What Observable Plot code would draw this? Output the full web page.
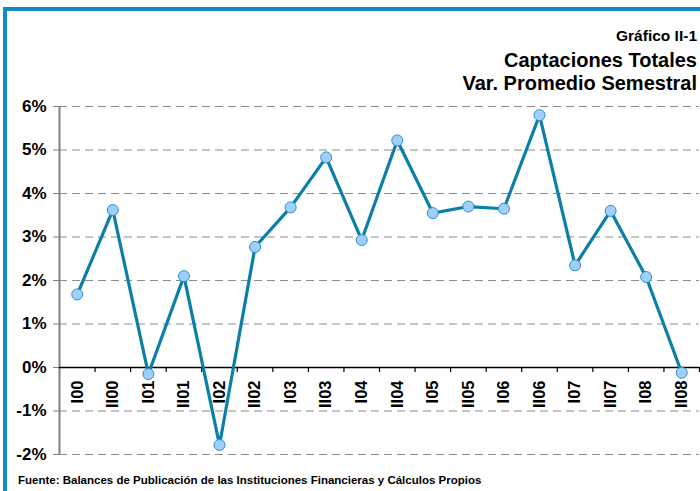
<!DOCTYPE html>
<html>
<head>
<meta charset="utf-8">
<script src="https://cdn.jsdelivr.net/npm/d3@7"></script>
<script src="https://cdn.jsdelivr.net/npm/@observablehq/plot@0.6"></script>
<style>
  html, body { margin: 0; padding: 0; background: #fff; }
  body { width: 700px; height: 491px; overflow: hidden; position: relative; font-family: "Liberation Sans", Arial, sans-serif; }
  #frame { position: absolute; left: 3px; top: 7px; width: 800px; height: 600px; border-left: 4px solid #0e8cc4; border-top: 4px solid #0e8cc4; }
  .t { position: absolute; right: 3px; line-height: 1; font-weight: bold; color: #000; white-space: nowrap; }
  #t1 { top: 28.4px; font-size: 15.5px; }
  #t2 { top: 49.6px; font-size: 20px; }
  #t3 { top: 72.6px; font-size: 20px; }
  #chart { position: absolute; left: 0; top: 96px; }
  #foot { position: absolute; left: 18px; top: 474.8px; font-size: 11.5px; line-height: 1; font-weight: bold; white-space: nowrap; }
</style>
</head>
<body>
<div id="frame"></div>
<div class="t" id="t1">Gráfico II-1</div>
<div class="t" id="t2">Captaciones Totales</div>
<div class="t" id="t3">Var. Promedio Semestral</div>
<div id="chart"></div>
<div id="foot">Fuente: Balances de Publicación de las Instituciones Financieras y Cálculos Propios</div>
<script>
const categories = ["I00","II00","I01","II01","I02","II02","I03","II03","I04","II04","I05","II05","I06","II06","I07","II07","I08","II08"];
const values = [1.68, 3.62, -0.15, 2.10, -1.78, 2.77, 3.68, 4.83, 2.93, 5.22, 3.55, 3.70, 3.65, 5.80, 2.35, 3.60, 2.08, -0.12];
const yTicks = [-2, -1, 0, 1, 2, 3, 4, 5, 6];

const data = categories.map((c, i) => ({i, label: c, v: values[i]}));
const bounds = d3.range(categories.length + 1).map(i => i - 0.5);

const plot = Plot.plot({
  width: 700,
  height: 374,
  marginTop: 10,
  marginBottom: 16,
  marginLeft: 59,
  marginRight: 1,
  style: {fontFamily: "'Liberation Sans', Arial, sans-serif", fontWeight: "bold", background: "transparent", overflow: "visible"},
  x: {type: "linear", domain: [-0.5, categories.length - 0.5], axis: null},
  y: {domain: [-2, 6], axis: null},
  marks: [
    Plot.gridY(yTicks.filter(d => d !== 0), {stroke: "#8c8c8c", strokeOpacity: 1, strokeWidth: 1, strokeDasharray: "8,5"}),
    Plot.axisY(yTicks, {label: null, tickFormat: d => d + "%", tickSize: 6, tickPadding: 7, fontSize: 17, stroke: "#808080", fill: "#000"}),
    Plot.ruleX([-0.5], {stroke: "#808080", strokeWidth: 2}),
    Plot.ruleY([0], {stroke: "#000", strokeWidth: 1.5}),
    Plot.ruleX(bounds.slice(1), {x: d => d, y1: () => 0, y2: () => 0, insetBottom: -5, stroke: "#000", strokeWidth: 1.2}),
    Plot.text(data, {x: "i", y: () => 0, text: "label", rotate: -90, textAnchor: "end", dy: 13, fontSize: 16.5, fill: "#000"}),
    Plot.line(data, {x: "i", y: "v", stroke: "#0b7fa8", strokeWidth: 3.2}),
    Plot.dot(data, {x: "i", y: "v", r: 5.5, fill: "#9fcfff", stroke: "#2e8ec4", strokeWidth: 1})
  ]
});
document.getElementById("chart").appendChild(plot);
</script>
</body>
</html>
